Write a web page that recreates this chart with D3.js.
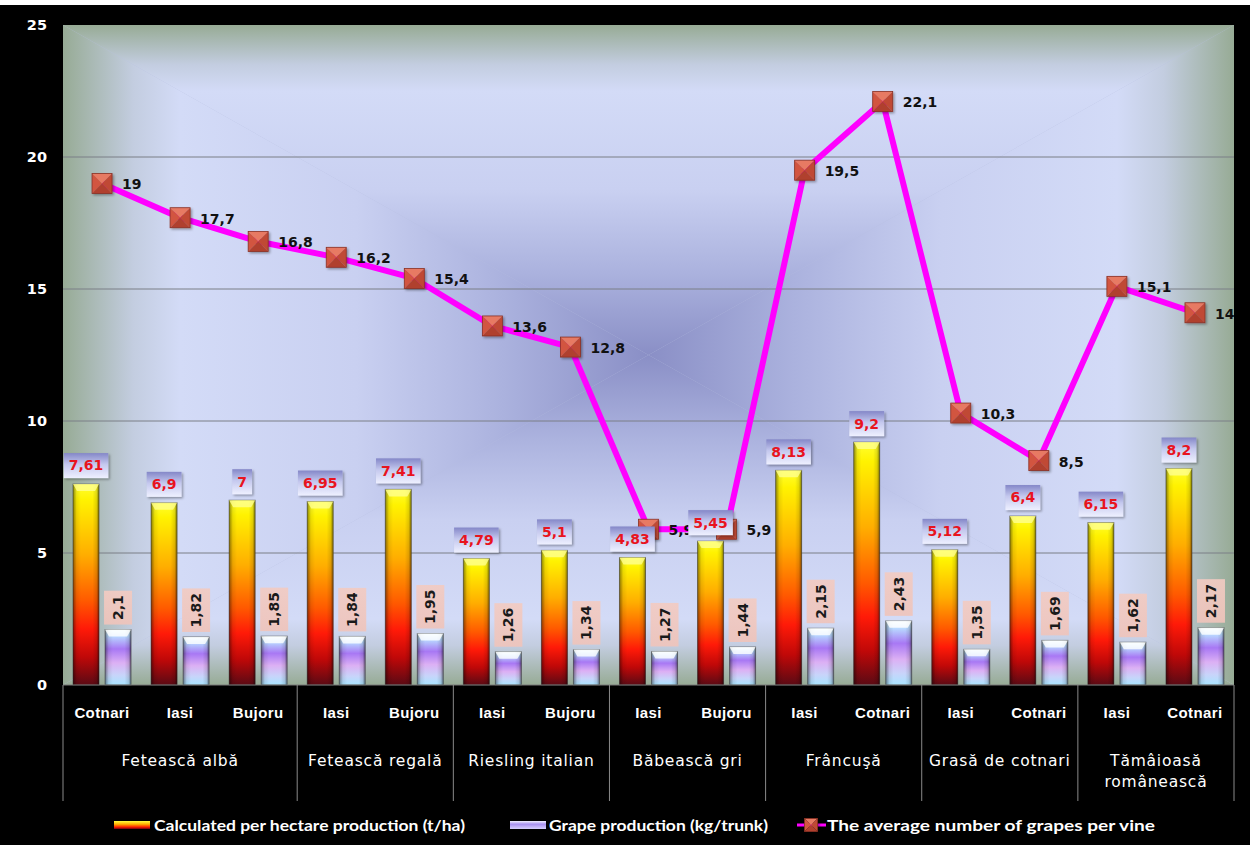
<!DOCTYPE html>
<html>
<head>
<meta charset="utf-8">
<script src="https://cdn.jsdelivr.net/npm/d3@7"></script>
<style>
  html, body { margin: 0; padding: 0; background: #000; }
  svg { display: block; }
</style>
</head>
<body>
<script>
// Vineyard data per variety and location
const groups = ["Fetească albă", "Fetească regală", "Riesling italian", "Băbească gri", "Frâncuşă", "Grasă de cotnari", "Tămâioasă românească"];
const groupSizes = [3, 2, 2, 2, 2, 2, 2];
const locations = ["Cotnari", "Iasi", "Bujoru", "Iasi", "Bujoru", "Iasi", "Bujoru", "Iasi", "Bujoru", "Iasi", "Cotnari", "Iasi", "Cotnari", "Iasi", "Cotnari"];
const productionHa = [7.61, 6.9, 7, 6.95, 7.41, 4.79, 5.1, 4.83, 5.45, 8.13, 9.2, 5.12, 6.4, 6.15, 8.2];
const productionTrunk = [2.1, 1.82, 1.85, 1.84, 1.95, 1.26, 1.34, 1.27, 1.44, 2.15, 2.43, 1.35, 1.69, 1.62, 2.17];
const grapesPerVine = [19, 17.7, 16.8, 16.2, 15.4, 13.6, 12.8, 5.9, 5.9, 19.5, 22.1, 10.3, 8.5, 15.1, 14.1];
const yTicks = [0, 5, 10, 15, 20, 25];
const seriesNames = ["Calculated per hectare production (t/ha)", "Grape production (kg/trunk)", "The average number of grapes per vine"];

const W = 1250, H = 845;
const plot = { left: 63, right: 1234, top: 25, bottom: 685 };
const comma = v => String(v).replace(".", ",");

const svg = d3.select("body").append("svg").attr("width", W).attr("height", H);
const defs = svg.append("defs");

// page background
svg.append("rect").attr("width", W).attr("height", H).attr("fill", "#000");
svg.append("rect").attr("width", W).attr("height", 5).attr("fill", "#fff");

const idx = d3.range(locations.length);
const x0 = d3.scaleBand().domain(idx).range([plot.left, plot.right]).padding(0);
const x1 = d3.scaleBand().domain(["ha", "trunk"]).range([0, x0.bandwidth()])
  .paddingInner(0.1875).paddingOuter(0.3125);
const y = d3.scaleLinear().domain([0, 25]).range([plot.bottom, plot.top]);

// ---- plot background: rectangular "from centre" gradient built from four triangles
const cx = (plot.left + plot.right) / 2, cy = (plot.top + plot.bottom) / 2;
const bgStops = [
  [0, "#97ab95"], [0.12, "#c3cde0"], [0.2, "#d3dbf7"], [0.5, "#c9d0f1"], [0.75, "#abb2de"], [1, "#8a8fc6"]
];
function bgGrad(id, xa, ya) {
  const g = defs.append("linearGradient").attr("id", id).attr("gradientUnits", "userSpaceOnUse")
    .attr("x1", xa).attr("y1", ya).attr("x2", cx).attr("y2", cy);
  bgStops.forEach(s => g.append("stop").attr("offset", s[0]).attr("stop-color", s[1]));
}
bgGrad("bgTop", cx, plot.top);
bgGrad("bgBottom", cx, plot.bottom);
bgGrad("bgLeft", plot.left, cy);
bgGrad("bgRight", plot.right, cy);
const L = plot.left, R = plot.right, T = plot.top, B = plot.bottom;
const bgG = svg.append("g");
bgG.append("rect").attr("x", L).attr("y", T).attr("width", R - L).attr("height", B - T).attr("fill", "#b6bedf");
[
  ["bgTop", [[L, T], [R, T], [cx, cy]]],
  ["bgBottom", [[L, B], [R, B], [cx, cy]]],
  ["bgLeft", [[L, T], [L, B], [cx, cy]]],
  ["bgRight", [[R, T], [R, B], [cx, cy]]]
].forEach(([id, pts]) => {
  bgG.append("path").attr("d", "M" + pts.map(p => p.join(",")).join("L") + "Z")
    .attr("fill", `url(#${id})`);
});

// gridlines
svg.append("g").selectAll("line").data(yTicks.filter(t => t > 0 && t < 25)).join("line")
  .attr("x1", plot.left).attr("x2", plot.right)
  .attr("y1", d => y(d)).attr("y2", d => y(d))
  .attr("stroke", "#7a7f86").attr("stroke-width", 1);

// ---- bar gradients
function vGrad(id, stops) {
  const g = defs.append("linearGradient").attr("id", id).attr("x1", 0).attr("y1", 0).attr("x2", 0).attr("y2", 1);
  stops.forEach(s => g.append("stop").attr("offset", s[0]).attr("stop-color", s[1]).attr("stop-opacity", s[2] == null ? 1 : s[2]));
}
vGrad("gOrange", [[0, "#ffff30"], [0.08, "#fff200"], [0.35, "#ffae00"], [0.58, "#ff5a00"], [0.72, "#ff1a08"], [0.86, "#c00808"], [1, "#5a0a14"]]);
vGrad("gPurple", [[0, "#eaffff"], [0.12, "#b8d8ff"], [0.35, "#a878f4"], [0.6, "#dcb0f4"], [0.82, "#c8d4fa"], [1, "#a8e4ff"]]);
vGrad("gBoxBlue", [[0, "#8487c8"], [0.45, "#c4c8ee"], [1, "#eef0ff"]]);
vGrad("gBoxPink", [[0, "#f2cbc2"], [1, "#efc4bb"]]);
vGrad("gLegOrange", [[0, "#ffff40"], [0.4, "#ffb000"], [0.75, "#ff2000"], [1, "#700010"]]);
vGrad("gLegPurple", [[0, "#f0f0ff"], [0.4, "#a890f0"], [1, "#d8d0ff"]]);
const edge = defs.append("linearGradient").attr("id", "gEdge").attr("x1", 0).attr("x2", 1).attr("y1", 0).attr("y2", 0);
[[0, 0.45], [0.14, 0.08], [0.3, 0], [0.75, 0], [0.9, 0.12], [1, 0.5]].forEach(s =>
  edge.append("stop").attr("offset", s[0]).attr("stop-color", "#000").attr("stop-opacity", s[1]));

const shadow = defs.append("filter").attr("id", "fShadow").attr("x", "-30%").attr("y", "-30%").attr("width", "160%").attr("height", "160%");
shadow.append("feDropShadow").attr("dx", 1.5).attr("dy", 1.5).attr("stdDeviation", 1.2).attr("flood-color", "#000").attr("flood-opacity", 0.35);

// ---- bars
const barsG = svg.append("g");
function drawBar(xPos, val, fill, capColor) {
  const w = x1.bandwidth(), top = y(val), h = plot.bottom - top;
  const g = barsG.append("g");
  g.append("rect").attr("x", xPos).attr("y", top).attr("width", w).attr("height", h)
    .attr("fill", `url(#${fill})`).attr("stroke", "#3a3a3a").attr("stroke-opacity", 0.55).attr("stroke-width", 1);
  g.append("rect").attr("x", xPos).attr("y", top).attr("width", w).attr("height", h).attr("fill", "url(#gEdge)");
  g.append("path")
    .attr("d", `M${xPos},${top}L${xPos + w},${top}L${xPos + w - 4},${top + 7}L${xPos + 4},${top + 7}Z`)
    .attr("fill", capColor).attr("opacity", 0.8);
}
idx.forEach(i => {
  drawBar(x0(i) + x1("ha"), productionHa[i], "gOrange", "#ffff90");
  drawBar(x0(i) + x1("trunk"), productionTrunk[i], "gPurple", "#ffffff");
});

// ---- line series
const cxOf = i => x0(i) + x0.bandwidth() / 2;
const line = d3.line().x((d, i) => cxOf(i)).y(d => y(d));
svg.append("path").datum(grapesPerVine).attr("d", line)
  .attr("fill", "none").attr("stroke", "#ff00ff").attr("stroke-width", 6).attr("stroke-linejoin", "round");

function drawMarker(parent, mx, my, s) {
  const h = s / 2;
  const g = parent.append("g").attr("transform", `translate(${mx},${my})`).attr("filter", "url(#fShadow)");
  const tri = [
    [[-h, -h], [h, -h], [0, 0], "#e77a64"],
    [[-h, -h], [-h, h], [0, 0], "#d2553f"],
    [[h, -h], [h, h], [0, 0], "#c04a36"],
    [[-h, h], [h, h], [0, 0], "#b0402f"]
  ];
  tri.forEach(t => g.append("path").attr("d", `M${t[0]}L${t[1]}L${t[2]}Z`).attr("fill", t[3]));
  g.append("rect").attr("x", -h).attr("y", -h).attr("width", s).attr("height", s)
    .attr("fill", "none").attr("stroke", "#8a3024").attr("stroke-width", 0.8);
}
const markG = svg.append("g");
grapesPerVine.forEach((v, i) => drawMarker(markG, cxOf(i), y(v), 20));

// ---- labels
defs.append("clipPath").attr("id", "clipPlot").append("rect")
  .attr("x", plot.left).attr("y", plot.top).attr("width", plot.right - plot.left).attr("height", plot.bottom - plot.top);

const lineLab = svg.append("g").attr("clip-path", "url(#clipPlot)");
grapesPerVine.forEach((v, i) => {
  lineLab.append("text").attr("x", cxOf(i) + 20).attr("y", y(v) + 1).attr("dy", "0.35em")
    .attr("font-family", "DejaVu Sans").attr("font-weight", "bold").attr("font-size", 14)
    .attr("fill", "#111").text(comma(v));
});

const barLab = svg.append("g");
idx.forEach(i => {
  // per-hectare production label: red text on blue box above bar
  const xa = x0(i) + x1("ha") + x1.bandwidth() / 2;
  const ta = y(productionHa[i]) - 6;
  const ga = barLab.append("g");
  const txt = ga.append("text").attr("x", xa).attr("y", ta - 12.5).attr("dy", "0.35em")
    .attr("text-anchor", "middle").attr("font-family", "DejaVu Sans").attr("font-weight", "bold")
    .attr("font-size", 14).attr("fill", "#e8141e").text(comma(productionHa[i]));
  const tw = txt.node().getComputedTextLength();
  ga.insert("rect", "text").attr("x", xa - tw / 2 - 5).attr("y", ta - 25).attr("width", tw + 10).attr("height", 25)
    .attr("fill", "url(#gBoxBlue)").attr("filter", "url(#fShadow)");

  // per-trunk production label: rotated text on pink box above bar
  const xb = x0(i) + x1("trunk") + x1.bandwidth() / 2;
  const tb = y(productionTrunk[i]) - 5;
  const gb = barLab.append("g");
  const t2 = gb.append("text").attr("transform", `translate(${xb},0) rotate(-90)`)
    .attr("font-family", "DejaVu Sans").attr("font-weight", "bold").attr("font-size", 14)
    .attr("fill", "#1a1a1a").text(comma(productionTrunk[i]));
  const tl = t2.node().getComputedTextLength();
  const boxH = tl + 9;
  t2.attr("transform", `translate(${xb + 5},${tb - 4.5}) rotate(-90)`);
  gb.insert("rect", "text").attr("x", xb - 14).attr("y", tb - boxH).attr("width", 28).attr("height", boxH)
    .attr("fill", "url(#gBoxPink)").attr("opacity", 0.92);
});

// ---- value axis
svg.append("g").selectAll("text").data(yTicks).join("text")
  .attr("x", 47).attr("y", d => y(d)).attr("dy", "0.35em").attr("text-anchor", "end")
  .attr("font-family", "DejaVu Sans").attr("font-weight", "bold").attr("font-size", 14.5)
  .attr("fill", "#fff").text(d => d);

// ---- category axis (two levels)
svg.append("line").attr("x1", plot.left).attr("x2", plot.right).attr("y1", plot.bottom).attr("y2", plot.bottom)
  .attr("stroke", "#7a7a7a");
const boundaries = [0];
groupSizes.forEach(n => boundaries.push(boundaries[boundaries.length - 1] + n));
const bx = k => k < locations.length ? x0(k) : plot.right;
svg.append("g").selectAll("line").data(boundaries).join("line")
  .attr("x1", d => bx(d)).attr("x2", d => bx(d)).attr("y1", plot.bottom).attr("y2", 801)
  .attr("stroke", "#8a8a8a").attr("stroke-width", 1);

svg.append("g").selectAll("text").data(locations).join("text")
  .attr("x", (d, i) => cxOf(i)).attr("y", 713).attr("dy", "0.35em").attr("text-anchor", "middle")
  .attr("font-family", "Liberation Sans").attr("font-weight", "bold").attr("font-size", 15)
  .attr("letter-spacing", 0.4).attr("fill", "#fff").text(d => d);

const groupG = svg.append("g");
groups.forEach((gname, k) => {
  const xa = bx(boundaries[k]), xb = bx(boundaries[k + 1]);
  const words = gname === "Tămâioasă românească" ? ["Tămâioasă", "românească"] : [gname];
  const t = groupG.append("text").attr("x", (xa + xb) / 2).attr("text-anchor", "middle")
    .attr("font-family", "DejaVu Sans").attr("font-size", 15.5).attr("letter-spacing", 0.8)
    .attr("fill", "#fff");
  words.forEach((w, j) => t.append("tspan").attr("x", (xa + xb) / 2)
    .attr("y", 761 + j * 21).attr("dy", "0.35em").text(w));
});

// ---- legend
const leg = svg.append("g");
const legY = 825;
const legFont = t => t.attr("font-family", "Lato").attr("font-weight", "bold").attr("font-size", 16)
  .attr("fill", "#fff").attr("dy", "0.35em").attr("lengthAdjust", "spacingAndGlyphs");
leg.append("rect").attr("x", 114).attr("y", legY - 4).attr("width", 36).attr("height", 8).attr("fill", "url(#gLegOrange)");
leg.append("text").attr("x", 154).attr("y", legY).call(legFont).attr("textLength", 311).text(seriesNames[0]);
leg.append("rect").attr("x", 510).attr("y", legY - 4).attr("width", 36).attr("height", 8).attr("fill", "url(#gLegPurple)");
leg.append("text").attr("x", 549).attr("y", legY).call(legFont).attr("textLength", 219).text(seriesNames[1]);
leg.append("line").attr("x1", 797).attr("x2", 826).attr("y1", legY).attr("y2", legY)
  .attr("stroke", "#ff00ff").attr("stroke-width", 3);
drawMarker(leg, 811, legY, 13);
leg.append("text").attr("x", 827).attr("y", legY).call(legFont).attr("textLength", 328).text(seriesNames[2]);
</script>
</body>
</html>
